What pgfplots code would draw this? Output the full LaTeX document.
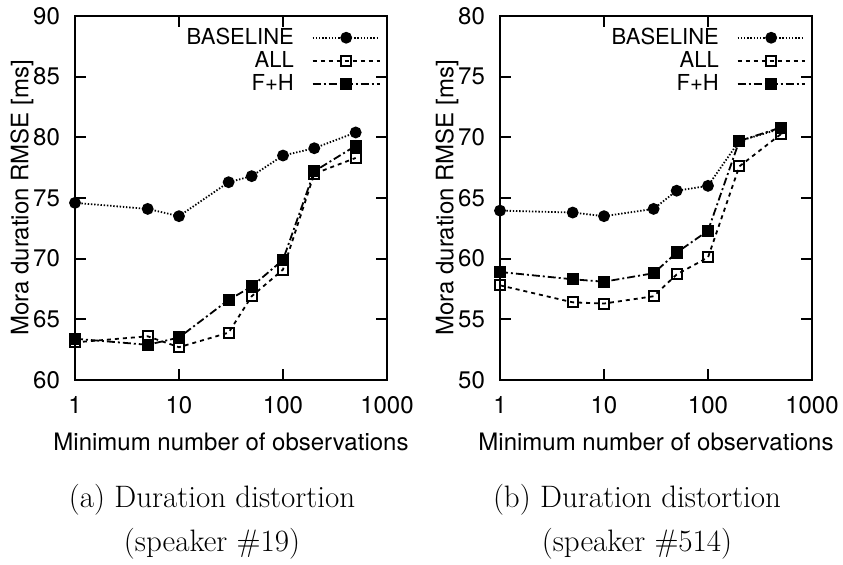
\documentclass[border=0pt]{standalone}
\usepackage{pgfplots}
\pgfplotsset{compat=1.18}
\usepackage{fontspec}
\setsansfont{TeX Gyre Heros}
\tikzset{
  sbase/.style={black, line width=0.9pt, dash pattern=on 0.7pt off 0.9pt, mark=*, mark size=2.5pt, mark options={solid}},
  sall/.style={black, line width=0.9pt, dash pattern=on 2pt off 2pt, mark=square, mark size=2.5pt, mark options={solid, line width=1pt}},
  sfh/.style={black, line width=0.9pt, dash pattern=on 4pt off 1.5pt on 1pt off 1.5pt, mark=square*, mark size=2.6pt, mark options={solid}},
}
\pgfplotsset{
  legend image code/.code={\path (0pt,0pt); \draw[mark repeat=2,mark phase=2,#1] plot coordinates {(7pt,0pt) (23.75pt,0pt) (40.5pt,0pt)};},
}
\begin{document}
\begin{tikzpicture}
\useasboundingbox (0,0) rectangle (421.5pt,282.5pt);
\begin{axis}[at={(37.5pt,92.5pt)}, anchor=south west,
    scale only axis, width=156pt, height=182pt,
    xmode=log, xmin=1, xmax=1000,
    xtick={1,10,100,1000}, xticklabels={1,10,100,1000},
    xminorticks=false,
    font=\sffamily\fontsize{12}{14}\selectfont,
    ticklabel style={font=\sffamily\fontsize{12}{14}\selectfont},
    /pgf/number format/assume math mode=true,
    tick align=inside, major tick length=5.5pt,
    every tick/.style={black, line width=0.9pt},
    axis line style={line width=1pt},
    xticklabel style={anchor=center, yshift=-12.5pt},
    yticklabel style={anchor=east, xshift=-4pt},
    xlabel={Minimum number of observations},
    ylabel={Mora duration RMSE [ms]},
    xlabel style={at={(axis description cs:0.5,0)}, anchor=center, yshift=-31pt},
    ylabel style={at={(axis description cs:-0.17,0.5)}, anchor=center},
    legend plot pos=right,
    legend cell align=right,
    legend style={draw=none, fill=none, at={(axis description cs:1.0,0.99)}, anchor=north east,
      font=\sffamily\fontsize{11}{13}\selectfont, nodes={font=\sffamily\fontsize{11}{13}\selectfont}, row sep=-2pt},
  ymin=60, ymax=90, ytick={60,65,70,75,80,85,90}]
\addplot[sbase] coordinates {(1,74.6) (5,74.1) (10,73.5) (30,76.3) (50,76.8) (100,78.5) (200,79.1) (500,80.4)};
\addlegendentry{BASELINE}
\addplot[sall] coordinates {(1,63.1) (5,63.6) (10,62.7) (30,63.9) (50,66.9) (100,69.1) (200,77.0) (500,78.3)};
\addlegendentry{ALL}
\addplot[sfh] coordinates {(1,63.4) (5,62.9) (10,63.5) (30,66.6) (50,67.7) (100,69.9) (200,77.2) (500,79.3)};
\addlegendentry{F+H}
\end{axis}
\begin{axis}[at={(250pt,92.5pt)}, anchor=south west,
    scale only axis, width=156pt, height=182pt,
    xmode=log, xmin=1, xmax=1000,
    xtick={1,10,100,1000}, xticklabels={1,10,100,1000},
    xminorticks=false,
    font=\sffamily\fontsize{12}{14}\selectfont,
    ticklabel style={font=\sffamily\fontsize{12}{14}\selectfont},
    /pgf/number format/assume math mode=true,
    tick align=inside, major tick length=5.5pt,
    every tick/.style={black, line width=0.9pt},
    axis line style={line width=1pt},
    xticklabel style={anchor=center, yshift=-12.5pt},
    yticklabel style={anchor=east, xshift=-4pt},
    xlabel={Minimum number of observations},
    ylabel={Mora duration RMSE [ms]},
    xlabel style={at={(axis description cs:0.5,0)}, anchor=center, yshift=-31pt},
    ylabel style={at={(axis description cs:-0.17,0.5)}, anchor=center},
    legend plot pos=right,
    legend cell align=right,
    legend style={draw=none, fill=none, at={(axis description cs:1.0,0.99)}, anchor=north east,
      font=\sffamily\fontsize{11}{13}\selectfont, nodes={font=\sffamily\fontsize{11}{13}\selectfont}, row sep=-2pt},
  ymin=50, ymax=80, ytick={50,55,60,65,70,75,80}]
\addplot[sbase] coordinates {(1,63.96) (5,63.8) (10,63.5) (30,64.1) (50,65.6) (100,66.0) (200,69.7) (500,70.7)};
\addlegendentry{BASELINE}
\addplot[sall] coordinates {(1,57.8) (5,56.4) (10,56.3) (30,56.9) (50,58.7) (100,60.1) (200,67.6) (500,70.25)};
\addlegendentry{ALL}
\addplot[sfh] coordinates {(1,58.9) (5,58.3) (10,58.1) (30,58.8) (50,60.5) (100,62.3) (200,69.7) (500,70.8)};
\addlegendentry{F+H}
\end{axis}
\node[anchor=base, font=\fontsize{15.5}{18}\selectfont] at (106pt,28.7pt) {(a) Duration distortion};
\node[anchor=base, font=\fontsize{15.5}{18}\selectfont] at (106pt,6.6pt) {(speaker \#19)};
\node[anchor=base, font=\fontsize{15.5}{18}\selectfont] at (318.5pt,28.7pt) {(b) Duration distortion};
\node[anchor=base, font=\fontsize{15.5}{18}\selectfont] at (318.5pt,6.6pt) {(speaker \#514)};
\end{tikzpicture}
\end{document}
